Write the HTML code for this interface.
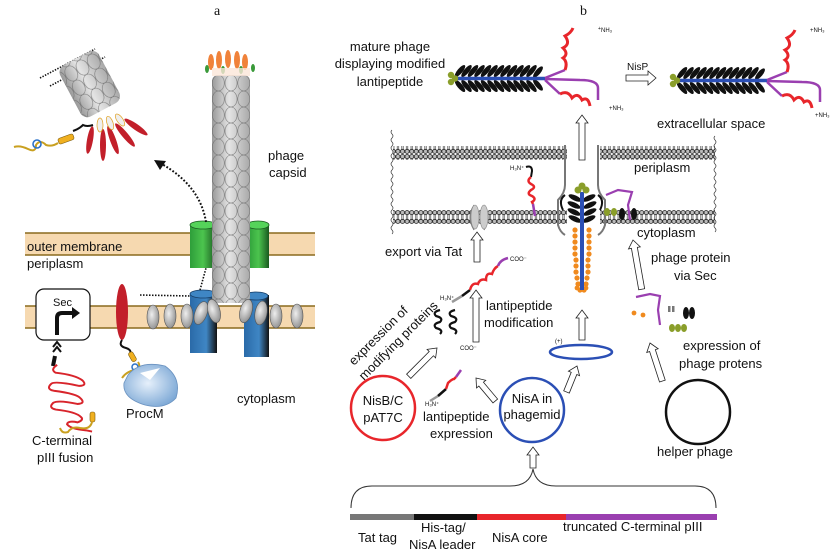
<!DOCTYPE html>
<html><head><meta charset="utf-8"><style>
html,body{margin:0;padding:0;background:#fff}
svg{display:block}
text{font-family:"Liberation Sans",sans-serif;fill:#111}
.s{font-size:13px}
</style></head><body>
<svg width="836" height="558" viewBox="0 0 836 558" xmlns="http://www.w3.org/2000/svg">
<defs>
<pattern id="bl" x="0" y="0" width="4.6" height="14" patternUnits="userSpaceOnUse">
<line x1="1.6" y1="4" x2="1.6" y2="10" stroke="#444" stroke-width="0.7"/>
<line x1="3" y1="4" x2="3" y2="10" stroke="#444" stroke-width="0.7"/>
<circle cx="2.3" cy="2.6" r="2.1" fill="#bbb" stroke="#222" stroke-width="0.8"/>
<circle cx="2.3" cy="11.4" r="2.1" fill="#bbb" stroke="#222" stroke-width="0.8"/>
</pattern>
<pattern id="cap" x="212" y="75" width="12.7" height="16" patternUnits="userSpaceOnUse">
<ellipse cx="6.35" cy="8" rx="6" ry="8" fill="none" stroke="#666" stroke-width="0.5"/>
</pattern>
<linearGradient id="capg" x1="0" x2="1">
<stop offset="0" stop-color="#999"/><stop offset="0.45" stop-color="#e4e4e4"/><stop offset="1" stop-color="#a8a8a8"/>
</linearGradient>
<linearGradient id="grn" x1="0" x2="1"><stop offset="0" stop-color="#2e9e3a"/><stop offset="0.5" stop-color="#4cc44e"/><stop offset="1" stop-color="#1a5a20"/></linearGradient>
<linearGradient id="blu" x1="0" x2="1"><stop offset="0" stop-color="#2a6aa8"/><stop offset="0.6" stop-color="#3f86c4"/><stop offset="1" stop-color="#111"/></linearGradient>
<radialGradient id="pm" cx="0.45" cy="0.45" r="0.6"><stop offset="0" stop-color="#e6f0fb"/><stop offset="1" stop-color="#7ea9d6"/></radialGradient>
<radialGradient id="ge" cx="0.4" cy="0.4" r="0.7"><stop offset="0" stop-color="#eee"/><stop offset="1" stop-color="#888"/></radialGradient>
<g id="phage">
<g fill="#111">
<ellipse cx="460" cy="71" rx="2.6" ry="7.5" transform="rotate(40 460 71)"/><ellipse cx="466.5" cy="71" rx="2.6" ry="7.5" transform="rotate(40 466.5 71)"/><ellipse cx="473" cy="71" rx="2.6" ry="7.5" transform="rotate(40 473 71)"/><ellipse cx="479.5" cy="71" rx="2.6" ry="7.5" transform="rotate(40 479.5 71)"/><ellipse cx="486" cy="71" rx="2.6" ry="7.5" transform="rotate(40 486 71)"/><ellipse cx="492.5" cy="71" rx="2.6" ry="7.5" transform="rotate(40 492.5 71)"/><ellipse cx="499" cy="71" rx="2.6" ry="7.5" transform="rotate(40 499 71)"/><ellipse cx="505.5" cy="71" rx="2.6" ry="7.5" transform="rotate(40 505.5 71)"/><ellipse cx="512" cy="71" rx="2.6" ry="7.5" transform="rotate(40 512 71)"/><ellipse cx="518.5" cy="71" rx="2.6" ry="7.5" transform="rotate(40 518.5 71)"/><ellipse cx="525" cy="71" rx="2.6" ry="7.5" transform="rotate(40 525 71)"/><ellipse cx="531.5" cy="71" rx="2.6" ry="7.5" transform="rotate(40 531.5 71)"/><ellipse cx="538" cy="72" rx="2.6" ry="7" transform="rotate(40 538 72)"/>
<ellipse cx="460" cy="86" rx="2.6" ry="7.5" transform="rotate(-40 460 86)"/><ellipse cx="466.5" cy="86" rx="2.6" ry="7.5" transform="rotate(-40 466.5 86)"/><ellipse cx="473" cy="86" rx="2.6" ry="7.5" transform="rotate(-40 473 86)"/><ellipse cx="479.5" cy="86" rx="2.6" ry="7.5" transform="rotate(-40 479.5 86)"/><ellipse cx="486" cy="86" rx="2.6" ry="7.5" transform="rotate(-40 486 86)"/><ellipse cx="492.5" cy="86" rx="2.6" ry="7.5" transform="rotate(-40 492.5 86)"/><ellipse cx="499" cy="86" rx="2.6" ry="7.5" transform="rotate(-40 499 86)"/><ellipse cx="505.5" cy="86" rx="2.6" ry="7.5" transform="rotate(-40 505.5 86)"/><ellipse cx="512" cy="86" rx="2.6" ry="7.5" transform="rotate(-40 512 86)"/><ellipse cx="518.5" cy="86" rx="2.6" ry="7.5" transform="rotate(-40 518.5 86)"/><ellipse cx="525" cy="86" rx="2.6" ry="7.5" transform="rotate(-40 525 86)"/><ellipse cx="531.5" cy="86" rx="2.6" ry="7.5" transform="rotate(-40 531.5 86)"/><ellipse cx="538" cy="85" rx="2.6" ry="7" transform="rotate(-40 538 85)"/>
</g>
<line x1="452" y1="78.5" x2="545" y2="78.5" stroke="#2b4fb5" stroke-width="3.5"/>
<g fill="#8a9e2a"><circle cx="451" cy="75" r="3.2"/><circle cx="451" cy="82" r="3.2"/><circle cx="455" cy="78.5" r="3.2"/></g>
<path d="M545 78 L565 70 M545 79 L580 80 Q598 80 598 88 L598 100 M545 80 L560 94" stroke="#9a3fb0" stroke-width="2.5" fill="none"/>
<path d="M565 70 q3 -8 -2 -12 q6 -4 0 -10 q8 -4 2 -12 q6 -3 8 -8" stroke="#e8262b" stroke-width="3" fill="none"/>
<path d="M560 94 q8 -4 12 4 q6 -6 10 2 q6 -4 8 6" stroke="#e8262b" stroke-width="3" fill="none"/>
</g>
</defs>

<!-- ===== Panel a ===== -->
<text x="214" y="15" style="font-family:'Liberation Serif',serif;font-size:14px">a</text>

<rect x="25" y="233" width="290" height="22" fill="#f6d9b0"/>
<line x1="25" y1="233" x2="315" y2="233" stroke="#8a6a1e" stroke-width="1.5"/>
<line x1="25" y1="255" x2="315" y2="255" stroke="#8a6a1e" stroke-width="1.5"/>
<rect x="25" y="306" width="290" height="22" fill="#f6d9b0"/>
<line x1="25" y1="306" x2="315" y2="306" stroke="#8a6a1e" stroke-width="1.5"/>
<line x1="25" y1="328" x2="315" y2="328" stroke="#8a6a1e" stroke-width="1.5"/>
<text x="27" y="251" class="s">outer membrane</text>
<text x="27" y="268" class="s">periplasm</text>

<rect x="190" y="224" width="26" height="44" fill="url(#grn)"/>
<ellipse cx="203" cy="225" rx="13" ry="4" fill="#55d35a" stroke="#1a5a20" stroke-width="0.8"/>
<rect x="248" y="224" width="21" height="44" fill="url(#grn)"/>
<ellipse cx="258" cy="225" rx="11" ry="4" fill="#55d35a" stroke="#1a5a20" stroke-width="0.8"/>

<rect x="190" y="293" width="27" height="60" fill="url(#blu)"/>
<ellipse cx="203" cy="294" rx="13" ry="4" fill="#3f86c4" stroke="#163d66" stroke-width="0.8"/>
<rect x="244" y="295" width="25" height="62" fill="url(#blu)"/>
<ellipse cx="256" cy="296" rx="12" ry="4" fill="#3f86c4" stroke="#163d66" stroke-width="0.8"/>

<rect x="212" y="75" width="38" height="228" rx="6" fill="url(#capg)"/>
<rect x="212" y="75" width="38" height="228" rx="6" fill="url(#cap)"/>
<g fill="#f0823a">
<ellipse cx="211" cy="62" rx="3" ry="8"/><ellipse cx="219" cy="60" rx="3" ry="9"/><ellipse cx="228" cy="59" rx="3" ry="9"/><ellipse cx="237" cy="60" rx="3" ry="9"/><ellipse cx="245" cy="62" rx="3" ry="8"/>
</g>
<g fill="#3a9a3a"><ellipse cx="207" cy="69" rx="2" ry="4"/><ellipse cx="223" cy="70" rx="2" ry="4"/><ellipse cx="241" cy="70" rx="2" ry="4"/><ellipse cx="253" cy="68" rx="2" ry="4"/></g>
<rect x="212" y="68" width="38" height="8" fill="#fbe6d8" opacity="0.8"/>
<text x="268" y="160" class="s">phage</text>
<text x="269" y="177" class="s">capsid</text>

<g fill="url(#ge)" stroke="#555" stroke-width="0.6">
<ellipse cx="153" cy="317" rx="6" ry="12"/><ellipse cx="170" cy="316" rx="6" ry="12"/><ellipse cx="187" cy="316" rx="6" ry="12"/>
<ellipse cx="201" cy="313" rx="6" ry="12" transform="rotate(20 201 313)"/><ellipse cx="214" cy="311" rx="6" ry="12" transform="rotate(-15 214 311)"/>
<ellipse cx="246" cy="311" rx="6" ry="12" transform="rotate(15 246 311)"/><ellipse cx="261" cy="313" rx="6" ry="12" transform="rotate(10 261 313)"/><ellipse cx="276" cy="316" rx="6" ry="12"/><ellipse cx="297" cy="316" rx="6" ry="12"/>
</g>

<path d="M140 295 L190 296" stroke="#111" stroke-width="1.6" stroke-dasharray="1.5 1.5" fill="none"/>
<path d="M200 290 L206 268" stroke="#111" stroke-width="1.6" stroke-dasharray="1.5 1.5" fill="none"/>
<path d="M206 222 Q200 185 160 163" stroke="#111" stroke-width="2" stroke-dasharray="1.8 1.8" fill="none"/>
<path d="M154 160 L166 161 L160 170 Z" fill="#111"/>

<rect x="36" y="289" width="54" height="51" rx="8" fill="#fff" stroke="#111" stroke-width="1.2"/>
<text x="53" y="306" style="font-size:11px">Sec</text>
<path d="M57 335 L57 318 Q57 313 62 313 L74 313" stroke="#111" stroke-width="4" fill="none"/>
<path d="M72 307 L80 313 L72 319 Z" fill="#111"/>
<path d="M53 347 L57 342 L61 347 M53 352 L57 347 L61 352" stroke="#111" stroke-width="2" fill="none"/>

<ellipse cx="122" cy="312" rx="6" ry="28" fill="#c21f2a"/>
<path d="M122 340 q-4 6 4 8 q6 2 4 6" stroke="#111" stroke-width="2" fill="none"/>
<rect x="130" y="352" width="5" height="10" rx="2" fill="#f0b020" stroke="#7a5a10" stroke-width="0.6" transform="rotate(-30 132 357)"/>
<path d="M138 362 q4 6 -4 8 q-8 2 -12 8" stroke="#c9a020" stroke-width="2" fill="none"/>
<circle cx="135" cy="367" r="3" fill="none" stroke="#2a70c9" stroke-width="1.5"/>
<path d="M128 375 Q140 360 165 366 Q182 378 176 398 Q165 410 145 405 Q122 398 124 383 Z" fill="url(#pm)" stroke="#6a92c0" stroke-width="0.8"/>
<path d="M140 373 L160 368 L150 380 Z" fill="#fff"/>
<text x="126" y="418" class="s">ProcM</text>
<text x="237" y="403" class="s">cytoplasm</text>

<path d="M55 356 L53 366" stroke="#111" stroke-width="4"/>
<path d="M52 366 q-6 6 0 8 q20 -2 28 2 q6 4 -2 6 q-26 0 -28 4 q-4 6 4 6 q24 -2 28 2 q6 4 -2 6 q-20 0 -24 4 q-4 6 4 6 q20 -2 26 2 q4 2 -2 6 q-10 0 -10 4 q4 4 20 2 l6 0" stroke="#d8242b" stroke-width="2" fill="none" transform="rotate(12 60 390)"/>
<rect x="90" y="412" width="5" height="10" rx="2" fill="#f0b020" stroke="#7a5a10" stroke-width="0.6"/>
<path d="M92 422 q-2 8 -12 6 q-8 -2 -12 4 q-6 2 -8 -4" stroke="#c9a020" stroke-width="2" fill="none"/>
<text x="32" y="445" class="s">C-terminal</text>
<text x="37" y="462" class="s">pIII fusion</text>

<path d="M40 78 L95 49 M50 86 L105 57" stroke="#111" stroke-width="1.6" stroke-dasharray="1.4 1.4"/>
<g transform="rotate(-28 88 85)">
<rect x="68" y="56" width="44" height="58" rx="8" fill="url(#capg)"/>
<rect x="68" y="56" width="44" height="58" rx="8" fill="url(#cap)"/>
</g>
<g fill="#c21f2a">
<ellipse cx="90" cy="140" rx="3" ry="14" transform="rotate(10 90 140)"/><ellipse cx="103" cy="145" rx="3" ry="16"/><ellipse cx="113" cy="140" rx="3" ry="15" transform="rotate(-20 113 140)"/><ellipse cx="125" cy="135" rx="3" ry="15" transform="rotate(-40 125 135)"/><ellipse cx="136" cy="127" rx="3" ry="14" transform="rotate(-55 136 127)"/>
</g>
<g fill="#eee" stroke="#e0a020" stroke-width="0.7"><ellipse cx="100" cy="125" rx="3" ry="7"/><ellipse cx="110" cy="123" rx="3" ry="7" transform="rotate(-20 110 123)"/><ellipse cx="120" cy="120" rx="3" ry="7" transform="rotate(-35 120 120)"/></g>
<path d="M93 125 q-6 2 -10 0 q-4 4 -10 6" stroke="#111" stroke-width="2" fill="none"/>
<rect x="58" y="136" width="16" height="6" rx="2" fill="#f0b020" stroke="#7a5a10" stroke-width="0.6" transform="rotate(-20 66 139)"/>
<path d="M58 143 q-6 4 -12 2 q-6 -6 -10 0 q0 8 -8 4 q-8 -4 -14 -2" stroke="#c9a020" stroke-width="2" fill="none"/>
<circle cx="37" cy="144" r="4" fill="none" stroke="#2a70c9" stroke-width="1.6"/>

<!-- ===== Panel b ===== -->
<text x="580" y="15" style="font-family:'Liberation Serif',serif;font-size:14px">b</text>
<text x="390" y="51" class="s" text-anchor="middle">mature phage</text>
<text x="390" y="68" class="s" text-anchor="middle">displaying modified</text>
<text x="390" y="86" class="s" text-anchor="middle">lantipeptide</text>
<use href="#phage"/>
<use href="#phage" transform="translate(222 2)"/>
<text x="598" y="30" style="font-size:5px">+</text><text x="601" y="32" style="font-size:6px">NH₃</text>
<text x="609" y="110" style="font-size:6px">+NH₃</text>
<text x="810" y="32" style="font-size:6px">+NH₃</text>
<text x="815" y="117" style="font-size:6px">+NH₃</text>
<text x="627" y="70" style="font-size:10px">NisP</text>
<path d="M626 75 L648 75 L648 71 L656 78 L648 85 L648 81 L626 81 Z" fill="#fff" stroke="#222" stroke-width="0.8"/>
<text x="657" y="128" class="s">extracellular space</text>

<rect x="393" y="146" width="174" height="14" fill="url(#bl)"/>
<rect x="600" y="146" width="115" height="14" fill="url(#bl)"/>
<rect x="393" y="210" width="174" height="14" fill="url(#bl)"/>
<rect x="600" y="210" width="115" height="14" fill="url(#bl)"/>
<path d="M392 130 q-2 2 0 4 q2 2 0 4 q-2 2 0 4 q2 2 0 4 q-2 2 0 4 q2 2 0 4 q-2 2 0 4 q2 2 0 4 q-2 2 0 4 q2 2 0 4 q-2 2 0 4 q2 2 0 4 q-2 2 0 4 q2 2 0 4 q-2 2 0 4 q2 2 0 4 q-2 2 0 4 q2 2 0 4 q-2 2 0 4 q2 2 0 4 q-2 2 0 4 q2 2 0 4 q-2 2 0 4 q2 2 0 4 q-2 2 0 4 q2 2 0 4" stroke="#333" stroke-width="0.7" fill="none"/>
<path d="M715 136 q-2 2 0 4 q2 2 0 4 q-2 2 0 4 q2 2 0 4 q-2 2 0 4 q2 2 0 4 q-2 2 0 4 q2 2 0 4 q-2 2 0 4 q2 2 0 4 q-2 2 0 4 q2 2 0 4 q-2 2 0 4 q2 2 0 4 q-2 2 0 4 q2 2 0 4 q-2 2 0 4 q2 2 0 4 q-2 2 0 4 q2 2 0 4 q-2 2 0 4 q2 2 0 4 q-2 2 0 4 q2 2 0 4" stroke="#333" stroke-width="0.7" fill="none"/>
<text x="634" y="172" class="s">periplasm</text>
<text x="637" y="237" class="s">cytoplasm</text>

<path d="M565 145 L565 185 Q565 193 558 200 L558 225 Q560 232 565 235" stroke="#777" stroke-width="2" fill="none"/>
<path d="M598 145 L598 185 Q598 193 605 200 L605 225 Q603 232 598 235" stroke="#777" stroke-width="2" fill="none"/>
<path d="M565 195 Q558 200 563 210 M598 195 Q605 200 600 210" stroke="#111" stroke-width="2" fill="none"/>
<g fill="#111">
<ellipse cx="575" cy="198" rx="7" ry="2.6" transform="rotate(25 575 198)"/><ellipse cx="589" cy="198" rx="7" ry="2.6" transform="rotate(-25 589 198)"/>
<ellipse cx="574" cy="205" rx="7" ry="2.6" transform="rotate(25 574 205)"/><ellipse cx="590" cy="205" rx="7" ry="2.6" transform="rotate(-25 590 205)"/>
<ellipse cx="574" cy="212" rx="7" ry="2.6" transform="rotate(25 574 212)"/><ellipse cx="590" cy="212" rx="7" ry="2.6" transform="rotate(-25 590 212)"/>
<ellipse cx="575" cy="219" rx="7" ry="2.6" transform="rotate(25 575 219)"/><ellipse cx="589" cy="219" rx="7" ry="2.6" transform="rotate(-25 589 219)"/>
</g>
<g fill="#f08a1e">
<circle cx="575" cy="230" r="2.6"/><circle cx="589" cy="230" r="2.6"/><circle cx="575" cy="236" r="2.6"/><circle cx="589" cy="236" r="2.6"/><circle cx="575" cy="242" r="2.6"/><circle cx="589" cy="242" r="2.6"/><circle cx="575" cy="248" r="2.6"/><circle cx="589" cy="248" r="2.6"/><circle cx="575" cy="254" r="2.6"/><circle cx="589" cy="254" r="2.6"/><circle cx="576" cy="260" r="2.6"/><circle cx="588" cy="260" r="2.6"/><circle cx="576" cy="266" r="2.6"/><circle cx="588" cy="266" r="2.6"/><circle cx="576" cy="272" r="2.6"/><circle cx="588" cy="272" r="2.6"/><circle cx="577" cy="278" r="2.6"/><circle cx="587" cy="278" r="2.6"/><circle cx="578" cy="284" r="2.6"/><circle cx="586" cy="284" r="2.6"/><circle cx="580" cy="290" r="2.6"/><circle cx="584" cy="290" r="2.6"/>
<circle cx="577" cy="288" r="2.4"/><circle cx="586" cy="288" r="2.4"/><circle cx="580" cy="284" r="2.4"/>
<circle cx="634" cy="313" r="2.4"/><circle cx="643" cy="315" r="2.4"/>
</g>
<path d="M582 192 L582 290" stroke="#2b4fb5" stroke-width="4"/>
<g fill="#8a9e2a"><circle cx="578" cy="190" r="3.5"/><circle cx="586" cy="190" r="3.5"/><circle cx="582" cy="186" r="3.5"/></g>
<g fill="#8a9e2a"><ellipse cx="607" cy="212" rx="3" ry="4"/><ellipse cx="614" cy="212" rx="3" ry="4"/></g>
<g fill="#111"><ellipse cx="622" cy="214" rx="3" ry="6"/><ellipse cx="634" cy="214" rx="3" ry="6"/></g>
<path d="M606 195 L618 190 L632 192 L628 205 L630 220" stroke="#9a3fb0" stroke-width="2.2" fill="none"/>
<path d="M474 205 q-8 12 0 25 q-4 -12 0 -25Z" fill="#aaa" stroke="#777"/>
<path d="M484 205 q8 12 0 25 q4 -12 0 -25Z" fill="#aaa" stroke="#777"/>
<ellipse cx="475" cy="217" rx="4" ry="12" fill="#ccc" stroke="#888" stroke-width="0.6"/>
<ellipse cx="484" cy="217" rx="4" ry="12" fill="#ccc" stroke="#888" stroke-width="0.6"/>
<text x="510" y="170" style="font-size:6px">H₃N⁺</text>
<path d="M526 167 q6 -2 6 4 l-1 6" stroke="#111" stroke-width="2" fill="none"/>
<path d="M531 177 q-5 4 0 7 q6 3 0 6 q-5 4 1 6 q5 3 0 6 l1 2" stroke="#e8262b" stroke-width="2.5" fill="none"/>
<path d="M533 204 l2 12" stroke="#9a3fb0" stroke-width="2.5" fill="none"/>

<g fill="#fff" stroke="#222" stroke-width="0.8">
<path d="M582 115 l6 8 l-3 0 l0 37 l-6 0 l0 -37 l-3 0 Z"/>
<path d="M477 232 l6 8 l-3 0 l0 22 l-6 0 l0 -22 l-3 0 Z"/>
<path d="M476 290 l6 8 l-3 0 l0 44 l-6 0 l0 -44 l-3 0 Z"/>
<path d="M582 310 l6 8 l-3 0 l0 22 l-6 0 l0 -22 l-3 0 Z"/>
<path d="M0 0 l6 8 l-3 0 l0 42 l-6 0 l0 -42 l-3 0 Z" transform="translate(633 240) rotate(-10)"/>
<path d="M0 0 l6 8 l-3 0 l0 20 l-6 0 l0 -20 l-3 0 Z" transform="translate(577 366) rotate(22)"/>
<path d="M0 0 l6 8 l-3 0 l0 22 l-6 0 l0 -22 l-3 0 Z" transform="translate(476 378) rotate(-40)"/>
<path d="M0 0 l6 8 l-3 0 l0 32 l-6 0 l0 -32 l-3 0 Z" transform="translate(437 348) rotate(45)"/>
<path d="M0 0 l6 8 l-3 0 l0 32 l-6 0 l0 -32 l-3 0 Z" transform="translate(650 343) rotate(-18)"/>
<path d="M533 447 l6 8 l-3 0 l0 13 l-6 0 l0 -13 l-3 0 Z"/>
</g>

<text x="385" y="256" class="s">export via Tat</text>
<text x="651" y="262" class="s">phage protein</text>
<text x="674" y="280" class="s">via Sec</text>
<text x="486" y="310" class="s">lantipeptide</text>
<text x="484" y="327" class="s">modification</text>

<path d="M462 296 l-10 6" stroke="#999" stroke-width="2.5"/>
<path d="M470 290 l-8 6" stroke="#111" stroke-width="2.5"/>
<path d="M470 290 q2 -8 8 -6 q2 -6 8 -4 q0 -8 6 -6 q2 -6 6 -8" stroke="#e8262b" stroke-width="2.5" fill="none"/>
<path d="M498 266 q2 -6 10 -8" stroke="#9a3fb0" stroke-width="2.5" fill="none"/>
<text x="510" y="261" style="font-size:6px">COO⁻</text>
<text x="440" y="300" style="font-size:6px">H₃N⁺</text>
<g stroke="#111" stroke-width="2.2" fill="none">
<path d="M440 310 q-8 2 -4 6 q8 2 4 6 q-8 2 -4 6 q8 2 4 6"/>
<path d="M455 310 q-8 2 -4 6 q8 2 4 6 q-8 2 -4 6 q8 2 4 6"/>
</g>
<text transform="translate(354 366) rotate(-45)" class="s">expression of</text>
<text transform="translate(364 381) rotate(-45)" class="s">modifying proteins</text>

<path d="M430 401 l8 -5" stroke="#999" stroke-width="2.5"/>
<path d="M438 396 l8 -7" stroke="#111" stroke-width="2.5"/>
<path d="M446 389 l2 -6 q4 -4 6 -4 l2 -2" stroke="#e8262b" stroke-width="2.5" fill="none"/>
<path d="M456 377 l5 -7" stroke="#9a3fb0" stroke-width="2.5" fill="none"/>
<text x="460" y="350" style="font-size:6px">COO⁻</text>
<text x="425" y="406" style="font-size:6px">H₃N⁺</text>

<ellipse cx="581" cy="352" rx="31" ry="7" fill="none" stroke="#2b4fb5" stroke-width="2.5"/>
<text x="555" y="343" style="font-size:6px">(+)</text>

<path d="M636 297 L650 294 L660 296 L658 310 L660 325" stroke="#9a3fb0" stroke-width="2.2" fill="none"/>
<g fill="#777"><rect x="668" y="306" width="2.5" height="6"/><rect x="672" y="306" width="2.5" height="6"/></g>
<g fill="#111"><ellipse cx="686" cy="313" rx="3" ry="6"/><ellipse cx="692" cy="313" rx="3" ry="6"/></g>
<g fill="#8a9e2a"><ellipse cx="672" cy="328" rx="3" ry="4"/><ellipse cx="678" cy="328" rx="3" ry="4"/><ellipse cx="684" cy="328" rx="3" ry="4"/></g>

<text x="683" y="350" class="s">expression of</text>
<text x="679" y="368" class="s">phage protens</text>

<circle cx="383" cy="408" r="32" fill="none" stroke="#e8262b" stroke-width="2.5"/>
<text x="383" y="405" class="s" text-anchor="middle">NisB/C</text>
<text x="383" y="422" class="s" text-anchor="middle">pAT7C</text>
<circle cx="532" cy="410" r="32" fill="none" stroke="#2b4fb5" stroke-width="2.5"/>
<text x="532" y="403" class="s" text-anchor="middle">NisA in</text>
<text x="532" y="419" class="s" text-anchor="middle">phagemid</text>
<circle cx="698" cy="412" r="32" fill="none" stroke="#111" stroke-width="2.5"/>
<text x="423" y="421" class="s">lantipeptide</text>
<text x="430" y="438" class="s">expression</text>
<text x="657" y="456" class="s">helper phage</text>

<path d="M351 508 Q351 486 372 486 L510 486 Q530 486 533 469 Q536 486 556 486 L695 486 Q716 486 716 508" stroke="#333" stroke-width="1" fill="none"/>
<rect x="350" y="514" width="64" height="6" fill="#777"/>
<rect x="414" y="514" width="63" height="6" fill="#111"/>
<rect x="477" y="514" width="89" height="6" fill="#e8262b"/>
<rect x="566" y="514" width="151" height="6" fill="#9a3fb0"/>
<text x="358" y="542" class="s">Tat tag</text>
<text x="421" y="532" class="s">His-tag/</text>
<text x="409" y="549" class="s">NisA leader</text>
<text x="492" y="542" class="s">NisA core</text>
<text x="563" y="531" class="s">truncated C-terminal pIII</text>
</svg>
</body></html>
